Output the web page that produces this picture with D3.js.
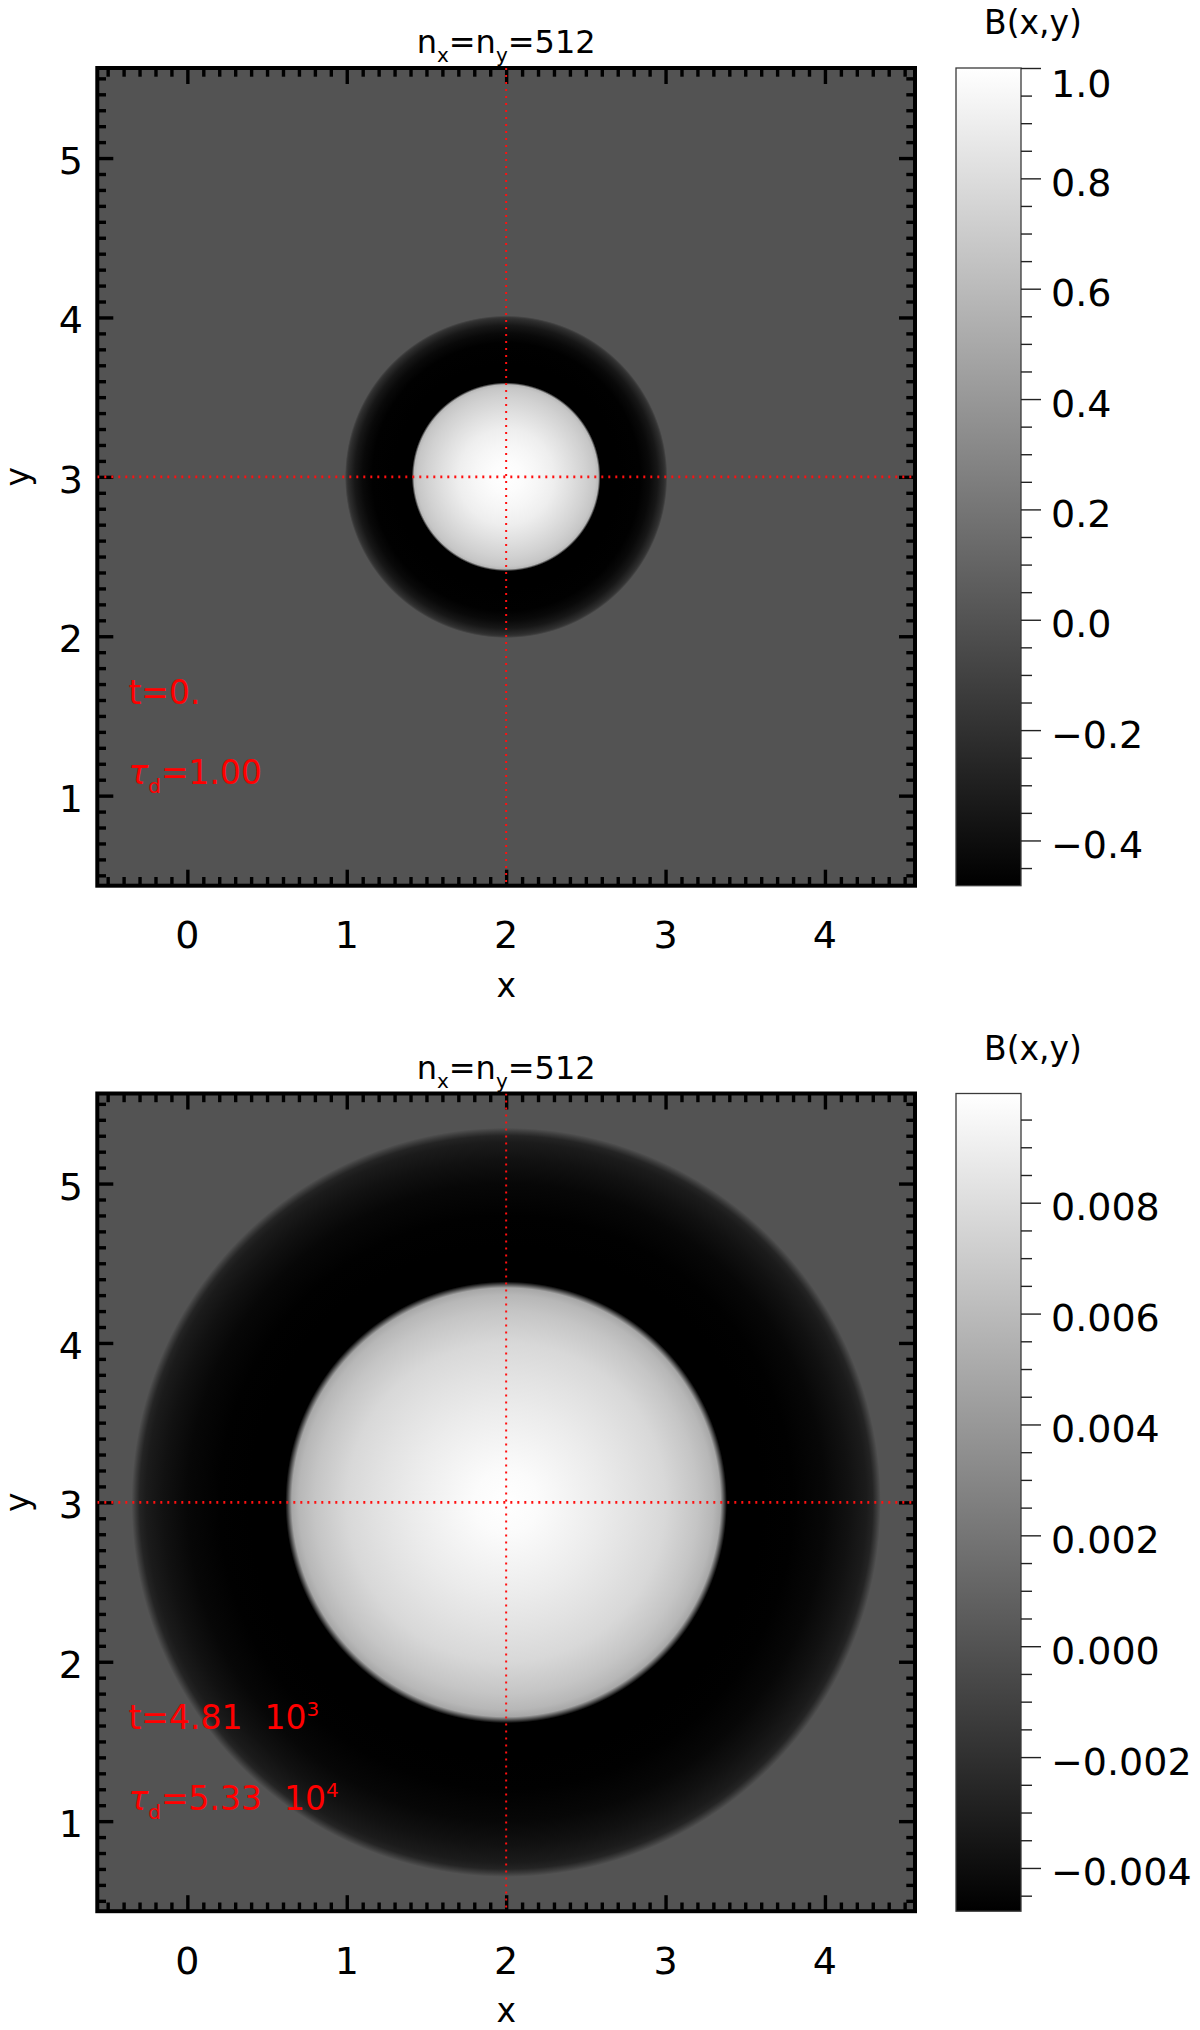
<!DOCTYPE html>
<html><head><meta charset="utf-8">
<script src="https://cdn.jsdelivr.net/npm/d3@7"></script>
<style>body{margin:0;background:#fff}svg{display:block}</style>
</head><body>
<script>
// ---------------- data ----------------
const xTicks = [0, 1, 2, 3, 4];
const yTicks = [1, 2, 3, 4, 5];
const xDomain = [-0.565, 4.565];
const yDomain = [0.435, 5.565];
const centerX = 2, centerY = 3;

// panel 1 (t = 0): radial profile of B
const p1Radius = [0, 0.1, 0.2, 0.3, 0.4, 0.5, 0.56, 0.578, 0.592, 0.7, 0.84, 0.9, 0.95, 0.99, 1.0, 1.012];
const p1Value  = [1.0, 0.985, 0.95, 0.9, 0.82, 0.73, 0.67, 0.6, -0.482, -0.482, -0.478, -0.43, -0.35, -0.22, -0.17, 0.0];
const p1ColorDomain = [-0.482, 1.0];
const p1CbarTicks = [-0.4, -0.2, 0.0, 0.2, 0.4, 0.6, 0.8, 1.0];
const p1CbarLabels = ["\u22120.4", "\u22120.2", "0.0", "0.2", "0.4", "0.6", "0.8", "1.0"];
const p1CbarMinorStep = 0.05;
const p1Time = ["t=0.", ""];
const p1Tau = ["=1.00", ""];

// panel 2 (t = 4.81 10^3)
const p2Radius = [0, 0.2, 0.4, 0.6, 0.8, 1.0, 1.2, 1.3, 1.345, 1.385, 1.6, 1.8, 2.0, 2.15, 2.26, 2.3, 2.325, 2.35];
const p2Value  = [0.00997, 0.00975, 0.0093, 0.0088, 0.0083, 0.0077, 0.0066, 0.0058, 0.0049, -0.00478, -0.00478, -0.0047, -0.0044, -0.0038, -0.0032, -0.0027, -0.0014, 0.0];
const p2ColorDomain = [-0.00478, 0.00997];
const p2CbarTicks = [-0.004, -0.002, 0.0, 0.002, 0.004, 0.006, 0.008];
const p2CbarLabels = ["\u22120.004", "\u22120.002", "0.000", "0.002", "0.004", "0.006", "0.008"];
const p2CbarMinorStep = 0.0005;
const p2Time = ["t=4.81", "3"];
const p2Tau = ["=5.33", "4"];

const titleParts = [["n", 0], ["x", 1], ["=n", 0], ["y", 1], ["=512", 0]];
const cbarTitle = "B(x,y)";

// ---------------- layout ----------------
const W = 1200, H = 2030;
const FONT = "DejaVu Sans";
const plotLeft = 97.3, plotSize = 817.7;
const panelTops = [68, 1093.5];
const cbLeft = 956, cbWidth = 65;

const svg = d3.select("body").append("svg").attr("width", W).attr("height", H)
  .style("font-family", FONT);
const defs = svg.append("defs");

const panels = [
  {radius: p1Radius, value: p1Value, cdom: p1ColorDomain, cticks: p1CbarTicks, clabels: p1CbarLabels, cstep: p1CbarMinorStep, time: p1Time, tau: p1Tau},
  {radius: p2Radius, value: p2Value, cdom: p2ColorDomain, cticks: p2CbarTicks, clabels: p2CbarLabels, cstep: p2CbarMinorStep, time: p2Time, tau: p2Tau}
];

panels.forEach((p, i) => {
  const top = panelTops[i];
  const bottom = top + plotSize;
  const x = d3.scaleLinear().domain(xDomain).range([plotLeft, plotLeft + plotSize]);
  const y = d3.scaleLinear().domain(yDomain).range([bottom, top]);
  const color = d3.scaleLinear().domain(p.cdom).range(["#000000", "#ffffff"]);
  const g = svg.append("g");

  defs.append("clipPath").attr("id", "clip" + i).append("rect")
    .attr("x", plotLeft).attr("y", top).attr("width", plotSize).attr("height", plotSize);
  const plot = g.append("g").attr("clip-path", `url(#clip${i})`);
  plot.append("rect").attr("x", plotLeft).attr("y", top).attr("width", plotSize).attr("height", plotSize)
    .attr("fill", color(0));

  // radial field
  const R = d3.max(p.radius);
  const cx = x(centerX), cy = y(centerY);
  const rPx = x(centerX + R) - x(centerX);
  const grad = defs.append("radialGradient").attr("id", "rg" + i)
    .attr("gradientUnits", "userSpaceOnUse")
    .attr("cx", cx).attr("cy", cy).attr("r", rPx).attr("fx", cx).attr("fy", cy);
  grad.selectAll("stop").data(p.radius.map((r, k) => ({r, v: p.value[k]}))).join("stop")
    .attr("offset", d => d.r / R).attr("stop-color", d => color(d.v));
  plot.append("circle").attr("cx", cx).attr("cy", cy).attr("r", rPx).attr("fill", `url(#rg${i})`);

  // axes ticks (inward, mirrored)
  const minorX = d3.range(-6, 47).map(k => k / 10).filter(v => v > xDomain[0] && v < xDomain[1] && Math.abs(v - Math.round(v)) > 1e-6);
  const minorY = d3.range(4, 57).map(k => k / 10).filter(v => v > yDomain[0] && v < yDomain[1] && Math.abs(v - Math.round(v)) > 1e-6);
  const tickStyle = sel => {
    sel.select(".domain").remove();
    sel.selectAll(".tick line").attr("stroke", "#000").attr("stroke-width", 3.4);
  };
  const axes = [
    [d3.axisBottom(x), xTicks, minorX, `translate(0,${bottom})`],
    [d3.axisTop(x), xTicks, minorX, `translate(0,${top})`],
    [d3.axisLeft(y), yTicks, minorY, `translate(${plotLeft},0)`],
    [d3.axisRight(y), yTicks, minorY, `translate(${plotLeft + plotSize},0)`]
  ];
  axes.forEach(([ax, maj, min, tr]) => {
    g.append("g").attr("transform", tr).call(ax.tickValues(maj).tickSize(-16).tickFormat("")).call(tickStyle);
    g.append("g").attr("transform", tr).call(ax.tickValues(min).tickSize(-8.7).tickFormat("")).call(tickStyle);
  });

  // frame
  g.append("rect").attr("x", plotLeft).attr("y", top).attr("width", plotSize).attr("height", plotSize)
    .attr("fill", "none").attr("stroke", "#000").attr("stroke-width", 4);

  // red dotted crosshair
  const red = g.append("g").attr("clip-path", `url(#clip${i})`);
  red.append("line").attr("x1", cx).attr("x2", cx).attr("y1", top).attr("y2", bottom)
    .attr("stroke", "#ff1010").attr("stroke-width", 2).attr("stroke-dasharray", "2,5");
  red.append("line").attr("x1", plotLeft).attr("x2", plotLeft + plotSize).attr("y1", cy).attr("y2", cy)
    .attr("stroke", "#ff1010").attr("stroke-width", 2.6).attr("stroke-dasharray", "2,5");

  // tick labels
  g.selectAll(".xl").data(xTicks).join("text").attr("class", "xl")
    .attr("x", d => x(d)).attr("y", bottom + 62.5).attr("text-anchor", "middle")
    .attr("font-size", 38).text(d => d);
  g.selectAll(".yl").data(yTicks).join("text").attr("class", "yl")
    .attr("x", 83).attr("y", d => y(d) + 16).attr("text-anchor", "end")
    .attr("font-size", 38).text(d => d);

  // axis titles
  g.append("text").attr("x", x(centerX)).attr("y", bottom + 111).attr("text-anchor", "middle")
    .attr("font-size", 33).text("x");
  g.append("text").attr("transform", `translate(29,${y(centerY)}) rotate(-90)`).attr("text-anchor", "middle")
    .attr("font-size", 33).text("y");

  // title
  const t = g.append("text").attr("x", x(centerX)).attr("y", top - 15).attr("text-anchor", "middle").attr("font-size", 32);
  let prevSub = 0;
  titleParts.forEach(([s, sub]) => {
    t.append("tspan").attr("dy", (sub - prevSub) * 9).attr("font-size", sub ? 20 : 32).text(s);
    prevSub = sub;
  });

  // red annotations
  const tx = x(-0.37);
  const tt = g.append("text").attr("x", tx).attr("y", y(1.575)).attr("fill", "#ff0000").attr("font-size", 33);
  tt.append("tspan").text(p.time[0]);
  if (p.time[1]) {
    tt.append("tspan").attr("dx", 22).text("10");
    tt.append("tspan").attr("dy", -13).attr("font-size", 20).text(p.time[1]);
  }
  const ta = g.append("text").attr("x", tx).attr("y", y(1.07)).attr("fill", "#ff0000").attr("font-size", 33);
  ta.append("tspan").attr("font-style", "italic").text("\u03c4");
  ta.append("tspan").attr("dy", 9).attr("font-size", 20).text("d");
  ta.append("tspan").attr("dy", -9).text(p.tau[0]);
  if (p.tau[1]) {
    ta.append("tspan").attr("dx", 22).text("10");
    ta.append("tspan").attr("dy", -13).attr("font-size", 20).text(p.tau[1]);
  }

  // colorbar
  const cyScale = d3.scaleLinear().domain(p.cdom).range([bottom, top]);
  const lg = defs.append("linearGradient").attr("id", "cg" + i)
    .attr("x1", 0).attr("y1", 1).attr("x2", 0).attr("y2", 0);
  lg.selectAll("stop").data(p.cdom).join("stop")
    .attr("offset", (d, k) => k).attr("stop-color", d => color(d));
  g.append("rect").attr("x", cbLeft).attr("y", top).attr("width", cbWidth).attr("height", plotSize)
    .attr("fill", `url(#cg${i})`).attr("stroke", "#3a3a3a").attr("stroke-width", 1.3);
  const cMinor = d3.range(Math.ceil(p.cdom[0] / p.cstep), Math.floor(p.cdom[1] / p.cstep) + 1)
    .map(k => k * p.cstep)
    .filter(v => !p.cticks.some(m => Math.abs(m - v) < p.cstep / 10));
  const cStyle = sel => {
    sel.select(".domain").remove();
    sel.selectAll(".tick line").attr("stroke", "#222").attr("stroke-width", 1.4);
  };
  g.append("g").attr("transform", `translate(${cbLeft + cbWidth},0)`)
    .call(d3.axisRight(cyScale).tickValues(p.cticks).tickSize(20).tickFormat("")).call(cStyle);
  g.append("g").attr("transform", `translate(${cbLeft + cbWidth},0)`)
    .call(d3.axisRight(cyScale).tickValues(cMinor).tickSize(11).tickFormat("")).call(cStyle);
  g.selectAll(".cl").data(p.cticks).join("text").attr("class", "cl")
    .attr("x", 1051).attr("y", d => Math.max(cyScale(d) + 17.5, top + 29))
    .attr("font-size", 38).text((d, k) => p.clabels[k]);
  g.append("text").attr("x", 1033).attr("y", top - 34).attr("text-anchor", "middle")
    .attr("font-size", 33).text(cbarTitle);
});
</script>
</body></html>
